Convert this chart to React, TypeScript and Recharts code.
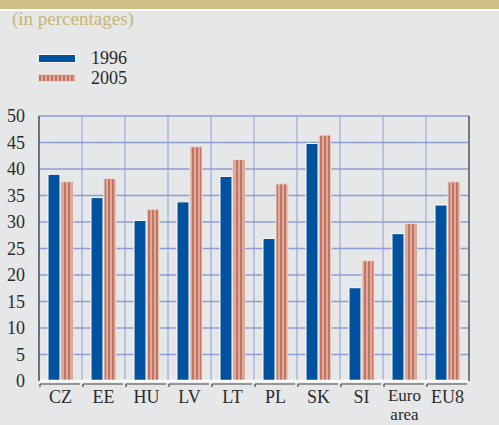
import React from 'react';
import { BarChart, Bar, XAxis, YAxis, CartesianGrid, ReferenceLine } from 'recharts';

const categories = ['CZ', 'EE', 'HU', 'LV', 'LT', 'PL', 'SK', 'SI', 'Euro area', 'EU8'];
const values1996 = [39.0, 34.6, 30.3, 33.8, 38.6, 26.9, 44.8, 17.6, 27.8, 33.2];
const values2005 = [37.6, 38.2, 32.4, 44.2, 41.8, 37.2, 46.4, 22.7, 29.7, 37.6];
const yTicks = [0, 5, 10, 15, 20, 25, 30, 35, 40, 45, 50];

const data = categories.map((name, i) => ({ name, y1996: values1996[i], y2005: values2005[i] }));

const serif = '"Liberation Serif", "DejaVu Serif", serif';
const textColor = '#2b2b2b';

const XTick = (props: any) => {
  const { x, y, payload } = props;
  const half = 21.5;
  const lines = String(payload.value).split(' ');
  const multi = lines.length > 1;
  return (
    <g>
      <line x1={x - half + 1} y1={y + 3} x2={x + half - 2} y2={y + 3} stroke="#444" strokeWidth={1.2} />
      <line x1={x - half + 1} y1={y + 3} x2={x - half + 1} y2={y + 6} stroke="#444" strokeWidth={1.2} />
      {lines.map((l, i) => (
        <text
          key={i}
          x={x}
          y={multi ? y + 20 + i * 19 : y + 22}
          textAnchor="middle"
          fontFamily={serif}
          fontSize={multi ? 17 : 18}
          fill={textColor}
        >
          {l}
        </text>
      ))}
    </g>
  );
};

export default function App() {
  return (
    <div style={{ position: 'absolute', left: 0, top: 0, width: 499, height: 425, background: '#e6e7e8', overflow: 'hidden' }}>
      <div style={{ position: 'absolute', left: 0, top: 0, width: 499, height: 9, background: '#cdbf85' }} />
      <div style={{ position: 'absolute', left: 0, top: 9, width: 499, height: 2, background: '#ffffff' }} />
      <div style={{ position: 'absolute', left: 12, top: 8, fontFamily: serif, fontSize: 19, color: '#c9b671', whiteSpace: 'nowrap' }}>
        (in percentages)
      </div>
      <div style={{ position: 'absolute', left: 38, top: 48, fontFamily: serif, fontSize: 18, color: textColor, lineHeight: '20px' }}>
        <div style={{ display: 'flex', alignItems: 'center' }}>
          <span style={{ display: 'inline-block', width: 36, height: 7, background: '#00529f', border: '1px solid #fff', marginRight: 15 }} />
          1996
        </div>
        <div style={{ display: 'flex', alignItems: 'center' }}>
          <span style={{ display: 'inline-block', width: 36, height: 6, marginRight: 15, border: '1px solid #f0d8d0', background: 'repeating-linear-gradient(90deg, #c07565 0 2px, #e0aa9a 2px 4px)' }} />
          2005
        </div>
      </div>
      <BarChart
        width={499}
        height={425}
        data={data}
        margin={{ top: 116, right: 0, left: 9, bottom: 14 }}
        barSize={12}
        barGap={1}
        style={{ position: 'absolute', left: 0, top: 0 }}
      >
        <defs>
          <pattern id="stripes" width="4" height="10" patternUnits="userSpaceOnUse">
            <rect x="0" y="0" width="4" height="10" fill="#e0aa9a" />
            <rect x="0" y="0" width="2" height="10" fill="#c07565" />
          </pattern>
        </defs>
        <CartesianGrid
          yAxisId="left"
          stroke="#a9b5de"
          strokeWidth={1.5}
          horizontal={false}
          verticalCoordinatesGenerator={({ offset }: any) =>
            categories.map((_, i) => offset.left + (i * offset.width) / categories.length)
          }
        />
        <CartesianGrid yAxisId="left" stroke="#8b9dd6" strokeWidth={1.3} vertical={false} />
        <XAxis
          dataKey="name"
          axisLine={false}
          tickLine={false}
          tickSize={0}
          tickMargin={0}
          interval={0}
          height={30}
          tick={<XTick />}
        />
        <YAxis
          yAxisId="left"
          domain={[0, 50]}
          ticks={yTicks}
          width={30}
          axisLine={{ stroke: '#555', strokeWidth: 1.5 }}
          tickLine={false}
          tickMargin={8}
          tick={{ fontFamily: serif, fontSize: 18, fill: textColor }}
        />
        <YAxis
          yAxisId="right"
          orientation="right"
          domain={[0, 50]}
          ticks={yTicks}
          width={30}
          axisLine={{ stroke: '#555', strokeWidth: 1.5 }}
          tickLine={false}
          tickMargin={8}
          tick={{ fontFamily: serif, fontSize: 18, fill: textColor, textAnchor: 'start' }}
        />
        <ReferenceLine yAxisId="left" y={0} stroke="#ffffff" strokeWidth={2.5} />
        <Bar yAxisId="left" dataKey="y1996" fill="#00529f" stroke="#ffffff" strokeWidth={1} isAnimationActive={false} />
        <Bar yAxisId="left" dataKey="y2005" fill="url(#stripes)" stroke="#f3dcd4" strokeWidth={1} isAnimationActive={false} />
      </BarChart>
    </div>
  );
}
